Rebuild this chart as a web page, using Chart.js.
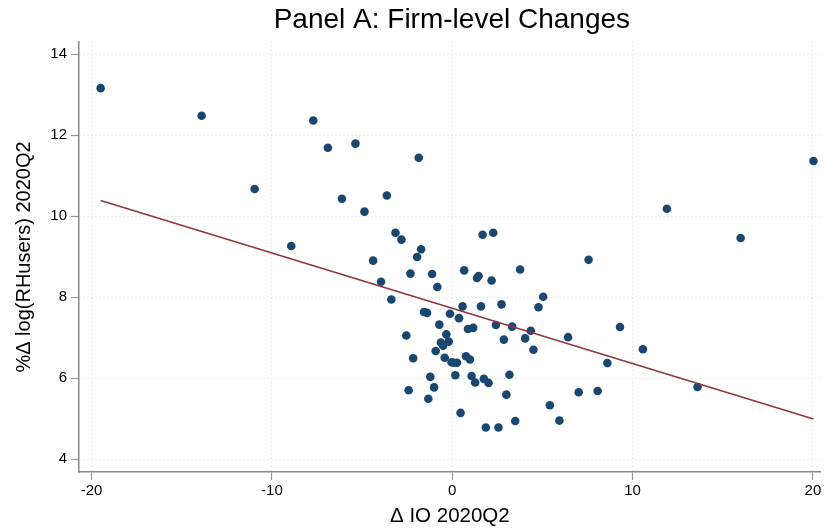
<!DOCTYPE html>
<html>
<head>
<meta charset="utf-8">
<script src="https://cdn.jsdelivr.net/npm/chart.js@4.4.0/dist/chart.umd.min.js"></script>
<style>
  body { margin: 0; background: #fff; }
  #wrap { width: 825px; height: 531px; position: relative; }
</style>
</head>
<body>
<div id="wrap"><canvas id="grafica"></canvas></div>
<script>
// dades llegides de la figura
var ioCanvi = [-19.5, -13.9, -7.71, -6.9, -5.37, -10.96, -6.12, -3.63, -4.87, -8.93,
  -3.15, -2.82, -1.86, -4.39, -3.95, -2.32, -1.95, -1.73, 1.68, 2.27,
  7.56, 0.66, 3.76, -1.12, 1.46, 1.37, 2.18, -0.83, -3.38, 5.04,
  0.57, 1.59, 2.73, 4.78, -1.57, -1.40, -0.13, 0.37, -0.72, 2.42,
  3.32, 0.87, 1.16, 4.35, -2.55, -0.33, 6.42, 4.04, 2.86, -0.63,
  -0.2, -0.51, 4.5, -0.92, -2.17, -0.42, 0.76, 0.98, -0.04, 0.26,
  0.06, -1.22, 0.17, 1.07, 3.17, 1.75, 1.27, 2.01, -1.01, -2.42,
  7.01, 8.06, 3.0, -1.33, 5.41, 0.46, 5.94, 3.49, 1.86, 2.56,
  20.03, 11.9, 15.99, 9.30, 10.57, 8.6, 13.6];
var rhUsers = [13.16, 12.48, 12.36, 11.69, 11.79, 10.67, 10.43, 10.51, 10.11, 9.26,
  9.59, 9.42, 11.44, 8.90, 8.38, 8.58, 8.99, 9.18, 9.54, 9.59,
  8.92, 8.66, 8.68, 8.57, 8.52, 8.47, 8.41, 8.25, 7.94, 8.01,
  7.77, 7.77, 7.82, 7.75, 7.63, 7.61, 7.59, 7.48, 7.32, 7.31,
  7.27, 7.21, 7.24, 7.17, 7.05, 7.08, 7.01, 6.98, 6.95, 6.88,
  6.90, 6.80, 6.70, 6.67, 6.49, 6.50, 6.54, 6.46, 6.39, 6.38,
  6.38, 6.03, 6.07, 6.05, 6.08, 5.98, 5.89, 5.88, 5.77, 5.70,
  5.65, 5.68, 5.59, 5.49, 5.33, 5.14, 4.95, 4.94, 4.78, 4.78,
  11.36, 10.18, 9.46, 7.26, 6.71, 6.37, 5.78];
// recta ajustada (tall i pendent)
var ajust = [7.723, -0.1366];
var ticksX = [-20, -10, 0, 10, 20];
var ticksY = [4, 6, 8, 10, 12, 14];

window.onload = function () {
    var punts = [];
    for (var i = 0; i < ioCanvi.length; i++) {
        punts.push({ x: ioCanvi[i], y: rhUsers[i] });
    }
    var xMin = Math.min.apply(null, ioCanvi);
    var xMax = Math.max.apply(null, ioCanvi);
    var recta = [
        { x: xMin, y: ajust[0] + ajust[1] * xMin },
        { x: xMax, y: ajust[0] + ajust[1] * xMax }
    ];

    var font = "'Liberation Sans', Arial, sans-serif";

    // titol centrat sobre l'area del grafic
    var titol = {
        id: 'titol',
        afterDraw: function (chart) {
            var c = chart.ctx;
            var a = chart.chartArea;
            c.save();
            c.font = "28px " + font;
            c.fillStyle = '#000';
            c.textAlign = 'center';
            c.textBaseline = 'middle';
            c.fillText('Panel A: Firm-level Changes', (a.left + a.right) / 2 + 2, 20);
            c.restore();
        }
    };

    // sense marges extra per les etiquetes
    function senseMarges(axis) {
        axis.paddingLeft = 0;
        axis.paddingRight = 0;
        axis.paddingTop = 0;
        axis.paddingBottom = 0;
    }

    const ctx = document.getElementById('grafica');
    const grafica = new Chart(ctx, {
        type: 'scatter',
        data: {
            datasets: [{
                type: 'line',
                data: recta,
                borderColor: '#90353b',
                borderWidth: 1.6,
                pointRadius: 0,
                fill: false,
                order: 0
            }, {
                data: punts,
                backgroundColor: '#1a476f',
                borderColor: '#1a476f',
                pointRadius: 4.3,
                borderWidth: 0,
                order: 1
            }]
        },
        plugins: [titol],
        options: {
            animation: false,
            responsive: true,
            maintainAspectRatio: false,
            layout: { padding: { top: 42, right: 0, left: 0, bottom: 0 } },
            plugins: {
                legend: { display: false },
                tooltip: { enabled: false }
            },
            scales: {
                x: {
                    type: 'linear',
                    min: -20.7,
                    max: 20.43,
                    afterBuildTicks: function (axis) {
                        axis.ticks = ticksX.map(function (v) { return { value: v }; });
                    },
                    afterFit: function (axis) { axis.height = 59; senseMarges(axis); },
                    grid: {
                        color: '#d4d4d4',
                        tickColor: '#999',
                        tickLength: 8,
                        tickWidth: 1.2
                    },
                    border: { color: '#888', width: 1.5, dash: [1, 3] },
                    ticks: {
                        color: '#000',
                        padding: 2,
                        maxRotation: 0,
                        font: { family: font, size: 15 }
                    },
                    title: {
                        display: true,
                        text: 'Δ IO 2020Q2',
                        color: '#000',
                        padding: { top: 0, bottom: 2 },
                        font: { family: font, size: 20.5 }
                    }
                },
                y: {
                    type: 'linear',
                    min: 3.68,
                    max: 14.3,
                    afterBuildTicks: function (axis) {
                        axis.ticks = ticksY.map(function (v) { return { value: v }; });
                    },
                    afterFit: function (axis) { axis.width = 79; senseMarges(axis); },
                    grid: {
                        color: '#d4d4d4',
                        tickColor: '#999',
                        tickLength: 8,
                        tickWidth: 1.2
                    },
                    border: { color: '#888', width: 1.5, dash: [1, 3] },
                    ticks: {
                        color: '#000',
                        padding: 4,
                        font: { family: font, size: 15 }
                    },
                    title: {
                        display: true,
                        text: '%Δ log(RHusers) 2020Q2',
                        color: '#000',
                        padding: { top: 12, bottom: 0 },
                        font: { family: font, size: 20 }
                    }
                }
            }
        }
    });
};
</script>
</body>
</html>
